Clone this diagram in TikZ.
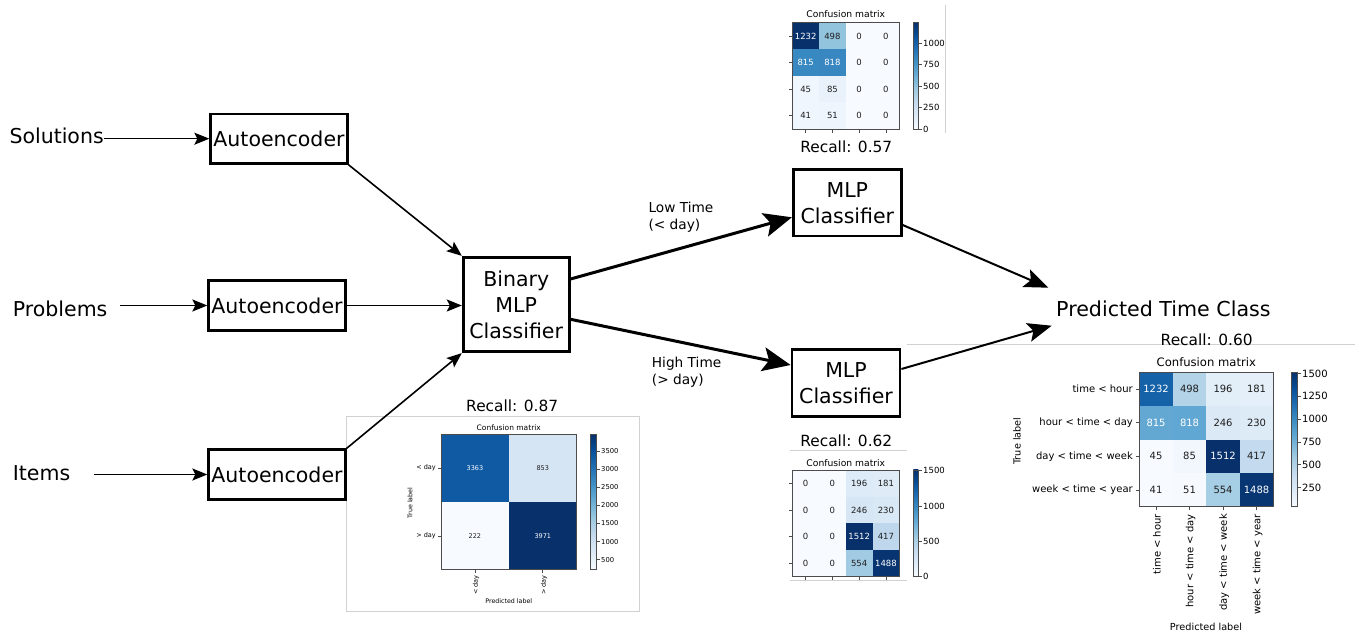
\documentclass[tikz,border=0pt]{standalone}
\usepackage{fontspec}
\setmainfont{DejaVu Sans}
\usetikzlibrary{arrows.meta}
\newcommand{\fsz}[2]{\fontsize{#1pt}{#2pt}\selectfont}
\definecolor{bz0}{RGB}{247,251,255}
\definecolor{bz1}{RGB}{222,235,247}
\definecolor{bz2}{RGB}{198,219,239}
\definecolor{bz3}{RGB}{158,202,225}
\definecolor{bz4}{RGB}{107,174,214}
\definecolor{bz5}{RGB}{66,146,198}
\definecolor{bz6}{RGB}{33,113,181}
\definecolor{bz7}{RGB}{8,81,156}
\definecolor{bz8}{RGB}{8,48,107}
\definecolor{txtk}{RGB}{30,30,30}
% confusion matrix: x0 y0 w h n fontsize list
\newcommand{\cmat}[7]{%
  \foreach \mc/\mr/\mR/\mG/\mB/\mv/\mt in {#7}{%
    \definecolor{cellc}{RGB}{\mR,\mG,\mB}%
    \fill[cellc] ({#1+\mc*#3},{#2+\mr*#4}) rectangle ({#1+(\mc+1)*#3},{#2+(\mr+1)*#4});%
    \node[inner sep=0pt, text=\mt, font=\fsz{#6}{#6}] at ({#1+(\mc+0.5)*#3},{#2+(\mr+0.5)*#4}) {\mv};%
  }%
  \draw[axisline] (#1,#2) rectangle ({#1+#5*#3},{#2+#5*#4});%
  \foreach \mi in {1,...,#5}{%
    \draw[axisline] ({#1},{#2+(\mi-0.5)*#4}) -- ++(-3.5,0);%
    \draw[axisline] ({#1+(\mi-0.5)*#3},{#2+#5*#4}) -- ++(0,3.5);%
  }%
}
% colour bar: x0 x1 ytop ybot
\newcommand{\bluesbar}[4]{%
  \foreach \bk/\bca/\bcb in {0/bz0/bz1,1/bz1/bz2,2/bz2/bz3,3/bz3/bz4,4/bz4/bz5,5/bz5/bz6,6/bz6/bz7,7/bz7/bz8}{%
    \pgfmathsetmacro{\bya}{#4-(#4-#3)*\bk/8+0.3}%
    \pgfmathsetmacro{\byb}{#4-(#4-#3)*(\bk+1)/8-0.3}%
    \shade[bottom color=\bca, top color=\bcb] (#1,\bya) rectangle (#2,\byb);%
  }%
  \draw[axisline] (#1,#3) rectangle (#2,#4);%
}
\begin{document}
\begin{tikzpicture}[x=1pt,y=-1pt,
  box/.style={draw, line width=2.8pt, inner sep=0pt, font=\fsz{20.5}{26}, align=center},
  lbl/.style={inner sep=0pt},
  arr/.style={line width=1.6pt, -{Stealth[length=15pt,width=12pt,inset=3pt]}},
  bigarr/.style={line width=3pt, -{Stealth[length=28pt,width=24pt,inset=6pt]}},
  midarr/.style={line width=2pt, -{Stealth[length=24pt,width=19pt,inset=5pt]}},
  axisline/.style={draw=black!70, line width=0.7pt},
  frameline/.style={draw=black!18, line width=0.8pt},
  recall/.style={inner sep=0pt, font=\fsz{15.4}{18}},
  cbl/.style={inner sep=0pt, anchor=west},
]
\useasboundingbox (0,0) rectangle (1355,636);

% ---- frames of the pasted plots
\draw[frameline] (945,5) -- (945,133);
\draw[frameline] (790,450.7) -- (906.7,450.7);
\draw[frameline] (790,580) -- (906.7,580);
\draw[frameline] (906.7,344.3) -- (1355,344.3);
\draw[frameline] (346.7,416.7) rectangle (639,611);

% ---- inputs and boxes
\node[lbl, font=\fsz{20.5}{24}, anchor=west] (sol) at (9.3,135.7) {Solutions};
\node[lbl, font=\fsz{20.5}{24}, anchor=west] (prob) at (12.7,309) {Problems};
\node[lbl, font=\fsz{20.5}{24}, anchor=west] (items) at (12.7,472.7) {Items};

\node[box, minimum width=136.5pt, minimum height=49.5pt] (ae1) at (279,138.7) {Autoencoder};
\node[box, minimum width=136.5pt, minimum height=49.5pt] (ae2) at (277,305.5) {Autoencoder};
\node[box, minimum width=136.5pt, minimum height=49.5pt] (ae3) at (277,474.5) {Autoencoder};
\node[box, minimum width=106pt, minimum height=94.5pt] (bin) at (516.2,304.5) {Binary\\MLP\\Classifier};
\node[box, minimum width=108pt, minimum height=66.5pt] (mlp1) at (847.3,202.7) {MLP\\Classifier};
\node[box, minimum width=108pt, minimum height=66.5pt] (mlp2) at (846,383) {MLP\\Classifier};
\node[lbl, font=\fsz{20.6}{24}, anchor=west] (ptc) at (1056,309) {Predicted Time Class};

\node[lbl, font=\fsz{13.7}{17.7}, align=left, anchor=west] (low) at (648.3,217.2) {Low Time\\(< day)};
\node[lbl, font=\fsz{13.7}{17.7}, align=left, anchor=west] (high) at (651.7,372.2) {High Time\\(> day)};

% ---- connectors
\coordinate (pstart) at ([xshift=12.7pt]prob.east);
\coordinate (istart) at ([xshift=23.3pt]items.east);
\draw[arr] (sol.east |- ae1.west) -- (ae1.west);
\draw[arr] (pstart |- ae2.west) -- (ae2.west);
\draw[arr] (istart |- ae3.west) -- (ae3.west);
\draw[arr] (ae1.south east) -- (bin.north west);
\draw[arr] (ae2.east) -- (ae2.east -| bin.west);
\draw[arr] (ae3.north east) -- (bin.south west);
\draw[bigarr] ([yshift=25.5pt]bin.east) -- ([yshift=-14.6pt]mlp1.west);
\draw[bigarr] ([yshift=-14.8pt]bin.east) -- ([yshift=18pt]mlp2.west);
\draw[midarr] ([yshift=-22.3pt]mlp1.east) -- ([xshift=-7.7pt,yshift=21.3pt]ptc.west);
\draw[midarr] ([yshift=14pt]mlp2.east) -- ([xshift=-4.3pt,yshift=-16.7pt]ptc.west);

% ---- recall labels
\node[recall] (r57) at (846.3,146.5) {Recall: 0.57};
\node[recall] (r87) at (512.2,405.5) {Recall: 0.87};
\node[recall] (r62) at (846.3,440.5) {Recall: 0.62};
\node[recall] (r60) at (1206.7,340) {Recall: 0.60};

% ---- matrix 1 (low time)
\node[lbl, font=\fsz{9.2}{11}] (t1) at (845.8,14.3) {Confusion matrix};
\cmat{792.3}{22.7}{26.75}{26.6}{4}{8.5}{0/0/8/48/107/1232/white, 1/0/146/196/222/498/txtk, 2/0/247/251/255/0/txtk, 3/0/247/251/255/0/txtk,
 0/1/56/136/193/815/white, 1/1/56/135/193/818/white, 2/1/247/251/255/0/txtk, 3/1/247/251/255/0/txtk,
 0/2/240/246/253/45/txtk, 1/2/233/242/251/85/txtk, 2/2/247/251/255/0/txtk, 3/2/247/251/255/0/txtk,
 0/3/240/246/253/41/txtk, 1/3/238/245/252/51/txtk, 2/3/247/251/255/0/txtk, 3/3/247/251/255/0/txtk}
\bluesbar{913.3}{918.3}{22.7}{129}
\foreach \yy/\ll in {129/0,107.5/250,86/500,64.5/750,43/1000}{
  \draw[axisline] (918.3,\yy) -- ++(3.5,0);
  \node[cbl, font=\fsz{8.5}{10}] at (923,\yy) {\ll};
}

% ---- matrix 2 (high time)
\node[lbl, font=\fsz{9.2}{11}] (t2) at (845.8,462.7) {Confusion matrix};
\cmat{792.3}{470}{26.75}{26.67}{4}{8.5}{0/0/247/251/255/0/txtk, 1/0/247/251/255/0/txtk, 2/0/221/234/247/196/txtk, 3/0/223/236/247/181/txtk,
 0/1/247/251/255/0/txtk, 1/1/247/251/255/0/txtk, 2/1/215/230/245/246/txtk, 3/1/217/232/245/230/txtk,
 0/2/247/251/255/0/txtk, 1/2/247/251/255/0/txtk, 2/2/8/48/107/1512/white, 3/2/190/215/236/417/txtk,
 0/3/247/251/255/0/txtk, 1/3/247/251/255/0/txtk, 2/3/161/203/226/554/txtk, 3/3/8/52/113/1488/white}
\bluesbar{913.3}{918.3}{470}{576.7}
\foreach \yy/\ll in {576.7/0,541.4/500,506.1/1000,470.8/1500}{
  \draw[axisline] (918.3,\yy) -- ++(3.5,0);
  \node[cbl, font=\fsz{8.5}{10}] at (923,\yy) {\ll};
}

% ---- matrix 3 (overall)
\node[lbl, font=\fsz{11.6}{13}] (t3) at (1206.3,362.3) {Confusion matrix};
\cmat{1139.3}{372.3}{33.5}{33.6}{4}{10}{0/0/21/98/169/1232/white, 1/0/179/211/232/498/txtk, 2/0/226/238/248/196/txtk, 3/0/228/239/249/181/txtk,
 0/1/98/168/211/815/white, 1/1/97/167/211/818/white, 2/1/219/233/246/246/txtk, 3/1/221/235/247/230/txtk,
 0/2/247/251/255/45/txtk, 1/2/241/247/253/85/txtk, 2/2/8/48/107/1512/white, 3/2/196/218/238/417/txtk,
 0/3/247/251/255/41/txtk, 1/3/246/250/255/51/txtk, 2/3/166/206/228/554/txtk, 3/3/8/54/115/1488/white}
\bluesbar{1291}{1297.3}{372.3}{506.7}
\foreach \yy/\ll in {487.6/250,464.8/500,441.9/750,419.1/1000,396.2/1250,373.4/1500}{
  \draw[axisline] (1297.3,\yy) -- ++(3.5,0);
  \node[cbl, font=\fsz{10}{12}] at (1302,\yy) {\ll};
}
\foreach \yy/\ll in {389.1/time < hour, 422.7/hour < time < day, 456.3/day < time < week, 489.9/week < time < year}{
  \node[lbl, anchor=east, font=\fsz{10}{12}] at (1133,\yy) {\ll};
}
\foreach \xx/\ll in {1157/time < hour, 1190.6/hour < time < day, 1224.1/day < time < week, 1257.6/week < time < year}{
  \node[lbl, anchor=east, rotate=90, font=\fsz{10}{12}] at (\xx,514) {\ll};
}
\node[lbl, rotate=90, font=\fsz{9.7}{11}] (tl3) at (1017,441) {True label};
\node[lbl, font=\fsz{9.7}{11}] (pl3) at (1206,626.7) {Predicted label};

% ---- matrix 4 (binary)
\node[lbl, font=\fsz{7.5}{9}] (t4) at (508.8,427.7) {Confusion matrix};
\cmat{441}{434.3}{67.85}{67.7}{2}{6.5}{0/0/15/90/163/3363/white, 1/0/214/229/244/853/txtk, 0/1/247/251/255/222/txtk, 1/1/8/48/107/3971/white}
\bluesbar{590}{596.7}{434.3}{569.7}
\foreach \yy/\ll in {559.7/500,541.6/1000,523.5/1500,505.5/2000,487.4/2500,469.4/3000,451.3/3500}{
  \draw[axisline] (596.7,\yy) -- ++(3,0);
  \node[cbl, font=\fsz{6.8}{8}] at (601,\yy) {\ll};
}
\node[lbl, anchor=east, font=\fsz{6.5}{8}] at (436,468.2) {< day};
\node[lbl, anchor=east, font=\fsz{6.5}{8}] at (436,536) {> day};
\node[lbl, anchor=east, rotate=90, font=\fsz{6.5}{8}] at (476,575) {< day};
\node[lbl, anchor=east, rotate=90, font=\fsz{6.5}{8}] at (544,575) {> day};
\node[lbl, rotate=90, font=\fsz{6.3}{8}] (tl4) at (410,503) {True label};
\node[lbl, font=\fsz{6.3}{8}] (pl4) at (508.8,600.7) {Predicted label};
\end{tikzpicture}
\end{document}
